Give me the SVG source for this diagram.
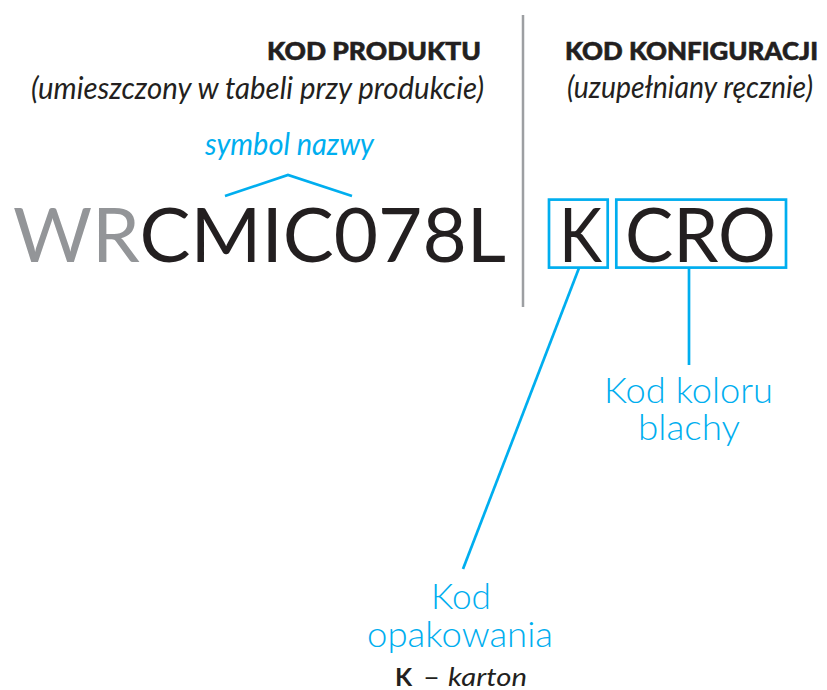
<svg xmlns="http://www.w3.org/2000/svg" width="827" height="690" viewBox="0 0 827 690">
<style>
.hd{font-family:Lato,"Liberation Sans",sans-serif;font-weight:900;font-size:25.5px;fill:#231f20;stroke:#231f20;stroke-width:0.6}
.it{font-family:Lato,"Liberation Sans",sans-serif;font-style:italic;font-size:31px;fill:#231f20}
.code{font-family:Lato,"Liberation Sans",sans-serif;font-size:75px;fill:#231f20}
.gray{fill:#939598}
.cy{font-family:Lato,"Liberation Sans",sans-serif;font-weight:300;font-size:35.5px;fill:#00aeef}
.cyi{font-family:Lato,"Liberation Sans",sans-serif;font-style:italic;font-size:30px;fill:#00aeef}
.box{fill:none;stroke:#00aeef;stroke-width:2.7}
.ln{fill:none;stroke:#00aeef;stroke-width:2.7}
.sm{font-family:Lato,"Liberation Sans",sans-serif;font-size:25px;fill:#231f20}
</style>
<line x1="523" y1="15" x2="523" y2="307" stroke="#9d9fa2" stroke-width="2.5"/>
<g id="kod-produktu">
<text class="hd" x="267" y="60" textLength="214" lengthAdjust="spacingAndGlyphs">KOD PRODUKTU</text>
<text class="it" x="31" y="99" textLength="453" lengthAdjust="spacingAndGlyphs">(umieszczony w tabeli przy produkcie)</text>
</g>
<g id="kod-konfiguracji">
<text class="hd" x="565" y="60" textLength="253" lengthAdjust="spacingAndGlyphs">KOD KONFIGURACJI</text>
<text class="it" x="567" y="98" textLength="246" lengthAdjust="spacingAndGlyphs">(uzupełniany ręcznie)</text>
</g>
<g id="symbol-nazwy">
<text class="cyi" x="205" y="155" textLength="169" lengthAdjust="spacingAndGlyphs">symbol nazwy</text>
</g>
<g id="kod">
<text class="code" x="13" y="262" textLength="493" lengthAdjust="spacingAndGlyphs"><tspan class="gray">WR</tspan>CMIC078L</text>
</g>
<g id="opakowanie-box">
<rect class="box" x="549" y="199.6" width="58.7" height="68"/>
<text class="code" x="559" y="262" textLength="43" lengthAdjust="spacingAndGlyphs">K</text>
</g>
<g id="kolor-box">
<rect class="box" x="616.3" y="199.6" width="169.7" height="68"/>
<text class="code" x="625" y="262" textLength="151" lengthAdjust="spacingAndGlyphs">CRO</text>
</g>
<g id="kod-koloru">
<text class="cy" x="604" y="403" textLength="169" lengthAdjust="spacingAndGlyphs">Kod koloru</text>
<text class="cy" x="638" y="440" textLength="102" lengthAdjust="spacingAndGlyphs">blachy</text>
</g>
<g id="kod-opakowania">
<text class="cy" x="431" y="609" textLength="60" lengthAdjust="spacingAndGlyphs">Kod</text>
<text class="cy" x="367" y="647" textLength="186" lengthAdjust="spacingAndGlyphs">opakowania</text>
<text class="sm" x="395" y="686"><tspan font-weight="700">K</tspan></text>
<text class="sm" x="423" y="686" textLength="17" lengthAdjust="spacingAndGlyphs">–</text>
<text class="sm" x="448" y="686" font-style="italic" textLength="79" lengthAdjust="spacingAndGlyphs">karton</text>
</g>
<g id="connectors">
<polyline class="ln" points="225,196 288,175 352,196"/>
<line class="ln" x1="579" y1="268" x2="463" y2="569"/>
<line class="ln" x1="689" y1="268" x2="689" y2="365"/>
</g>
</svg>
